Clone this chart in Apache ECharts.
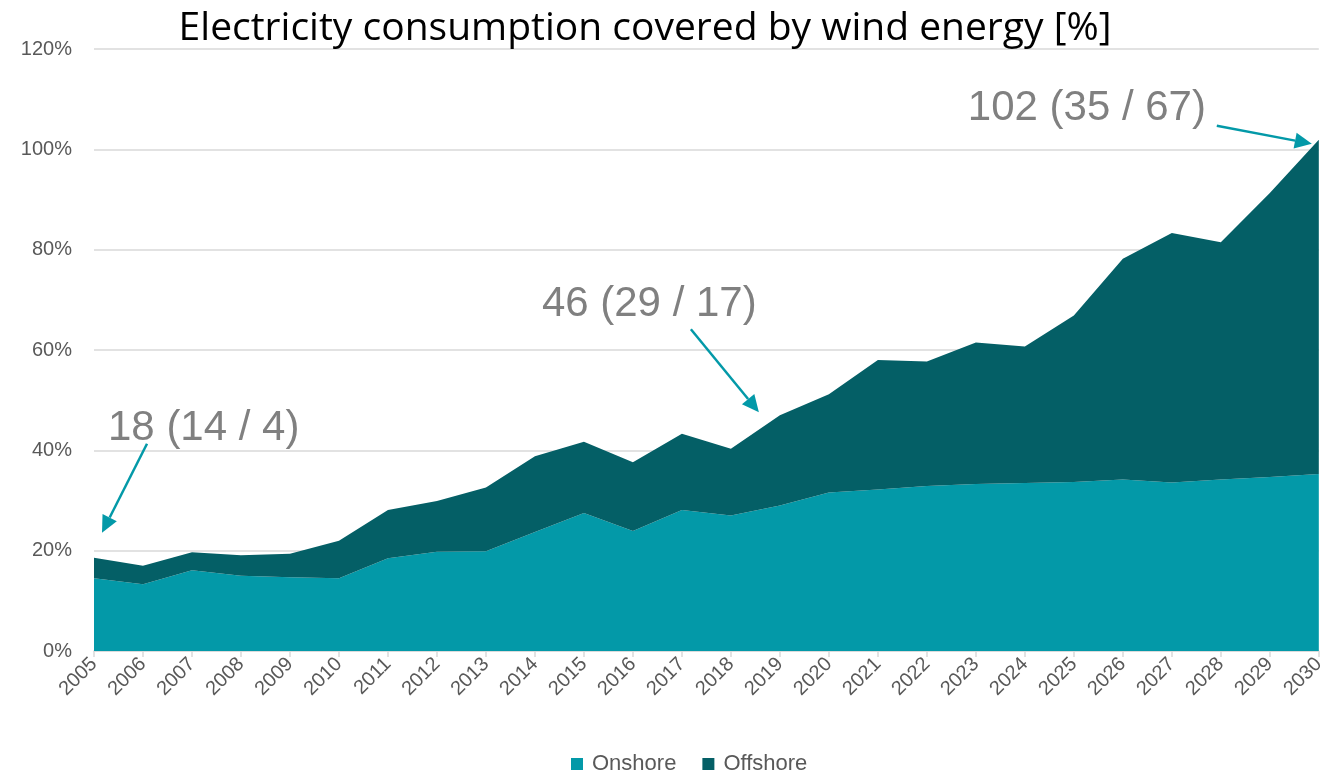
<!DOCTYPE html>
<html><head><meta charset="utf-8">
<script src="https://cdn.jsdelivr.net/npm/echarts@6/dist/echarts.min.js"></script>
<style>html,body{margin:0;padding:0;background:#fff}#c{width:1328px;height:773px}</style>
</head><body><div id="c"></div>
<script>
const years = ['2005','2006','2007','2008','2009','2010','2011','2012','2013','2014','2015','2016','2017','2018','2019','2020','2021','2022','2023','2024','2025','2026','2027','2028','2029','2030'];
const onshore = [14.5,13.3,16.1,15.0,14.7,14.5,18.5,19.8,19.9,23.7,27.5,23.9,28.1,27.0,29.0,31.6,32.2,32.9,33.3,33.5,33.7,34.2,33.6,34.2,34.7,35.3];
const offshore = [4.1,3.7,3.6,4.1,4.7,7.5,9.6,10.1,12.7,15.1,14.2,13.7,15.2,13.3,18.0,19.6,25.8,24.8,28.2,27.2,33.2,44.0,49.7,47.3,56.6,66.6];
const yTicks = [0,20,40,60,80,100,120];
const notes = [
  {year:'2005', text:'18 (14 / 4)'},
  {year:'2019', text:'46 (29 / 17)'},
  {year:'2030', text:'102 (35 / 67)'}
];
const C_ON = '#0399a8', C_OFF = '#045f66';
const chart = echarts.init(document.getElementById('c'));
chart.setOption({
  animation:false,
  title:{text:'Electricity consumption covered by wind energy [%]',left:640,top:4,textAlign:'center',
    textStyle:{fontFamily:'Open Sans',fontWeight:'normal',fontSize:39,color:'#000'}},
  legend:{top:748,left:566,itemWidth:12,itemHeight:12,itemGap:26,icon:'rect',
    textStyle:{fontFamily:'Liberation Sans',fontSize:22,color:'#595959',padding:[0,0,0,4]},
    data:['Onshore','Offshore']},
  grid:{left:94,right:5,top:49,bottom:122},
  xAxis:{type:'category',data:years,boundaryGap:false,
    axisLine:{lineStyle:{color:'#d9d9d9',width:1.5}},
    axisTick:{show:true,length:6,lineStyle:{color:'#d9d9d9',width:1.5}},
    axisLabel:{rotate:45,fontFamily:'Liberation Sans',fontSize:20,color:'#595959',margin:10}},
  yAxis:{type:'value',min:yTicks[0],max:yTicks[yTicks.length-1],interval:20,
    axisLine:{show:false},axisTick:{show:false},
    axisLabel:{formatter:'{value}%',fontFamily:'Liberation Sans',fontSize:20,color:'#595959',margin:22},
    splitLine:{lineStyle:{color:'#d9d9d9',width:1.5}}},
  series:[
    {name:'Onshore',type:'line',stack:'t',data:onshore,showSymbol:false,symbol:'none',
     lineStyle:{width:0},areaStyle:{color:C_ON,opacity:1},itemStyle:{color:C_ON}},
    {name:'Offshore',type:'line',stack:'t',data:offshore,showSymbol:false,symbol:'none',
     lineStyle:{width:0},areaStyle:{color:C_OFF,opacity:1},itemStyle:{color:C_OFF}}
  ]
});
// annotation layout (pixel offsets relative to the data point of each noted year)
const layout = [
  {tail:[53,-114], tip:[8,-25], tx:14, ty:-150},
  {tail:[-89,-86], tip:[-21,-3], tx:-238, ty:-132},
  {tail:[-102,-14], tip:[-7,4], tx:-351, ty:-52}
];
const g = [];
notes.forEach((n,i)=>{
  const idx = years.indexOf(n.year);
  const p = chart.convertToPixel({gridIndex:0},[idx, onshore[idx]+offshore[idx]]);
  const L = layout[i];
  const x1=p[0]+L.tail[0], y1=p[1]+L.tail[1], x2=p[0]+L.tip[0], y2=p[1]+L.tip[1];
  const dx=x2-x1, dy=y2-y1, len=Math.hypot(dx,dy), ux=dx/len, uy=dy/len;
  const hl=17, hw=8;
  const bx=x2-ux*hl, by=y2-uy*hl;
  g.push({type:'line',shape:{x1:x1,y1:y1,x2:bx,y2:by},style:{stroke:C_ON,lineWidth:2.5}});
  g.push({type:'polygon',shape:{points:[[x2,y2],[bx-uy*hw,by+ux*hw],[bx+uy*hw,by-ux*hw]]},style:{fill:C_ON}});
  g.push({type:'text',x:p[0]+L.tx,y:p[1]+L.ty,style:{text:n.text,fontFamily:'Liberation Sans',fontSize:42,fill:'#808080',textVerticalAlign:'top'}});
});
chart.setOption({graphic:g});
</script></body></html>
